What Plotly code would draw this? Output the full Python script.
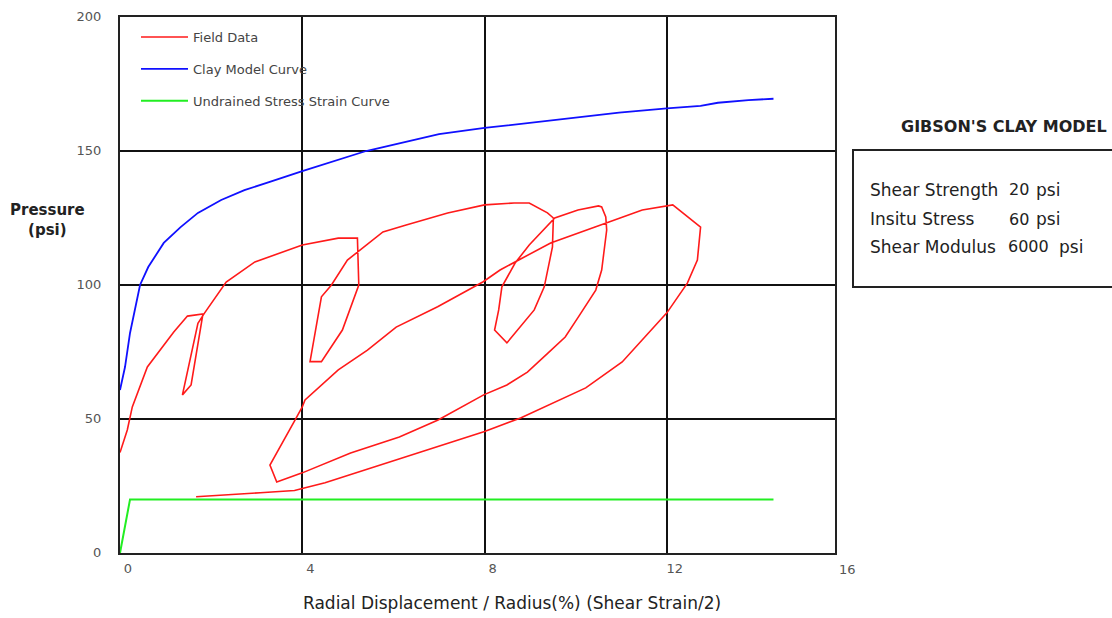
import plotly.graph_objects as go

# ---------------- data ----------------
field_x = [0, 0.16, 0.27, 0.6, 1.18, 1.48, 1.82, 1.56, 1.37, 1.71, 1.85, 2.33, 2.96, 4.0, 4.79, 5.21,
           5.24, 4.88, 4.42, 4.17, 4.42, 4.64, 4.99, 5.28, 5.77, 6.28, 7.19, 8.0, 8.65, 8.98, 9.38, 9.51,
           9.49, 9.31, 9.09, 8.49, 8.22, 8.31, 8.38, 8.67, 8.98, 9.54, 10.05, 10.5, 10.57, 10.66, 10.68,
           10.57, 10.44, 10.06, 9.77, 9.39, 8.94, 8.49, 7.98, 6.98, 6.13, 5.06, 4.0, 3.44, 3.29, 3.84,
           4.0, 4.06, 4.79, 5.43, 6.06, 6.97, 7.97, 8.34, 9.45, 10.73, 11.46, 12.13, 12.74, 12.67, 12.45,
           12.0, 11.02, 10.22, 8.79, 8.0, 7.0, 6.0, 5.0, 4.5, 4.0, 3.83, 3.08, 2.24, 1.67]
field_y = [37.5, 45.9, 54.5, 69.4, 82.5, 88.4, 89.2, 62.7, 59.0, 85.7, 89.4, 101.1, 108.6, 114.9, 117.5, 117.5,
           100.0, 83.2, 71.4, 71.4, 95.6, 100.0, 109.3, 113.1, 119.8, 122.4, 126.9, 129.9, 130.6, 130.6, 126.9, 125.0,
           114.2, 99.3, 90.7, 78.4, 83.2, 90.7, 99.3, 108.2, 114.9, 125.0, 128.0, 129.5, 129.1, 125.4, 120.5,
           105.6, 98.1, 88.1, 80.6, 74.6, 67.5, 62.7, 59.0, 49.6, 43.3, 37.3, 29.9, 26.5, 32.8, 49.6,
           54.5, 57.1, 68.3, 75.7, 84.3, 91.9, 101.2, 105.6, 115.7, 123.5, 128.0, 129.9, 121.6, 109.3, 100.7,
           89.6, 71.3, 61.6, 50.4, 45.3, 39.8, 34.3, 28.8, 26.2, 24.1, 23.3, 22.5, 21.6, 21.0]

clay_x = [0, 0.11, 0.22, 0.33, 0.44, 0.62, 0.96, 1.33, 1.71, 2.22, 2.73, 3.27, 4.0, 5.4, 7.0, 8.0,
          10.0, 10.95, 12.0, 12.74, 13.12, 13.79, 14.34]
clay_y = [60.8, 69.4, 82.1, 90.7, 100.0, 106.7, 115.7, 121.6, 126.9, 131.7, 135.4, 138.4, 142.5, 150.0,
          156.3, 158.6, 162.3, 164.3, 165.9, 166.8, 168.0, 169.0, 169.5]

undrained_x = [0, 0.22, 14.34]
undrained_y = [0, 20, 20]

x_ticks = [0, 4, 8, 12]
y_ticks = [0, 50, 100, 150, 200]

model_title = "GIBSON'S CLAY MODEL"
param_labels = ["Shear Strength", "Insitu Stress", "Shear Modulus"]
param_values = ["20", "60", "6000"]
param_units = ["psi", "psi", "psi"]

FONT = "DejaVu Sans"

fig = go.Figure()
fig.add_trace(go.Scatter(x=field_x, y=field_y, mode="lines", name="Field Data",
                         legendgroup="a", line=dict(color="#ff1a1a", width=1.6)))
fig.add_trace(go.Scatter(x=clay_x, y=clay_y, mode="lines", name="Clay Model Curve",
                         legendgroup="b", line=dict(color="#1010ff", width=1.8)))
fig.add_trace(go.Scatter(x=undrained_x, y=undrained_y, mode="lines", name="Undrained Stress Strain Curve",
                         legendgroup="c", line=dict(color="#22ee22", width=2)))

L, R, T, B = 120, 277, 17, 65
W, H = 1112, 618
pw, ph = W - L - R, H - T - B


def px(xp):
    return (xp - L) / pw


def py(yp):
    return (H - B - yp) / ph


def note(text, x, y, size, color="#222", xanchor="center"):
    return dict(text=text, x=px(x), y=py(y), xref="paper", yref="paper", xanchor=xanchor,
                yanchor="middle", showarrow=False, align="center",
                font=dict(family=FONT, size=size, color=color))


ann = []
ann.append(note("<b>Pressure</b><br><b>(psi)</b>", 47, 220, 15))
ann.append(note("Radial Displacement / Radius(%) (Shear Strain/2)", 512, 603, 17))
ann.append(note("16", 848, 569, 13, color="#555"))
ann.append(note("<b>" + model_title + "</b>", 1004, 127, 16))
rows_y = [190, 219, 247]
value_x = [1007, 1007, 1006]
unit_x = [1034, 1034, 1057]
for i in range(3):
    ann.append(note(param_labels[i], 868, rows_y[i], 17, xanchor="left"))
    ann.append(note(param_values[i], value_x[i], rows_y[i], 16, xanchor="left"))
    ann.append(note(param_units[i], unit_x[i], rows_y[i], 17, xanchor="left"))

shapes = [dict(type="rect", xref="paper", yref="paper", x0=px(853), x1=px(1125), y0=py(287), y1=py(150),
               line=dict(color="#222", width=2), fillcolor="rgba(0,0,0,0)")]

fig.update_layout(
    width=W, height=H,
    margin=dict(l=L, r=R, t=T, b=B, pad=0, autoexpand=False),
    paper_bgcolor="white", plot_bgcolor="white",
    font=dict(family=FONT, color="#333"),
    showlegend=True,
    legend=dict(x=px(136), y=py(22), xanchor="left", yanchor="top", bgcolor="rgba(0,0,0,0)",
                font=dict(family=FONT, size=13, color="#444"), tracegroupgap=12, itemwidth=47),
    annotations=ann, shapes=shapes,
    xaxis=dict(range=[0, 15.69], tickvals=x_ticks, ticktext=[str(v) for v in x_ticks],
               showgrid=True, gridcolor="#111", gridwidth=2, zeroline=False,
               showline=True, linecolor="#222", linewidth=2, mirror=True, ticks="",
               tickfont=dict(family=FONT, size=13, color="#555"), ticklabelshift=8, ticklabelstandoff=2,
               automargin=False),
    yaxis=dict(range=[0, 200], tickvals=y_ticks, ticktext=[str(v) for v in y_ticks],
               showgrid=True, gridcolor="#111", gridwidth=2, zeroline=False,
               showline=True, linecolor="#222", linewidth=2, mirror=True, ticks="",
               tickfont=dict(family=FONT, size=13, color="#555"), ticklabelstandoff=14, ticklabelshift=-1,
               automargin=False),
)

fig.write_html("out.html")
